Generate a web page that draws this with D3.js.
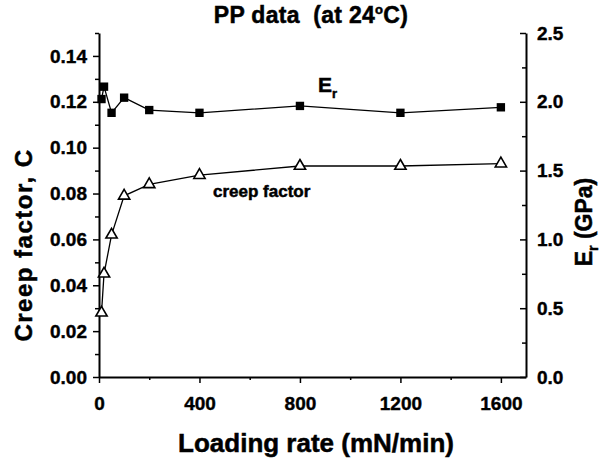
<!DOCTYPE html>
<html>
<head>
<meta charset="utf-8">
<script src="https://cdn.jsdelivr.net/npm/d3@7"></script>
<style>
  body { margin: 0; background: #fff; }
  svg text { font-family: "Liberation Sans", Arial, sans-serif; font-weight: bold; fill: #000; stroke: #000; stroke-width: 0.5; }
  .axis text { stroke-width: 0.4; }
  .axis path, .axis line { stroke: #000; }
  .axis path { stroke-width: 2; }
  .axis line { stroke-width: 1.5; }
  .line { fill: none; stroke: #000; stroke-width: 1.3; }
</style>
</head>
<body>
<div class="chart"></div>
<script>
const WIDTH = 613;
const HEIGHT = 458;
const MARGIN = {top: 33, right: 87, bottom: 81, left: 99};
const INNER_WIDTH = WIDTH - MARGIN.left - MARGIN.right;
const INNER_HEIGHT = HEIGHT - MARGIN.top - MARGIN.bottom;

// loading rate (mN/min)
var loadingRates = [10, 20, 50, 100, 200, 400, 800, 1200, 1600];
// reduced modulus Er (GPa), right axis
var erValues = [2.02, 2.11, 1.92, 2.03, 1.94, 1.92, 1.97, 1.92, 1.96];
// creep factor C, left axis
var creepValues = [0.028, 0.045, 0.062, 0.079, 0.084, 0.088, 0.092, 0.092, 0.093];

var xTicks = [0, 400, 800, 1200, 1600];
var xMinorTicks = [200, 600, 1000, 1400];
var leftTicks = [0, 0.02, 0.04, 0.06, 0.08, 0.10, 0.12, 0.14];
var leftMinorTicks = [0.01, 0.03, 0.05, 0.07, 0.09, 0.11, 0.13, 0.15];
var rightTicks = [0, 0.5, 1.0, 1.5, 2.0, 2.5];
var rightMinorTicks = [0.25, 0.75, 1.25, 1.75, 2.25];

var xScale = d3.scaleLinear().domain([0, 1700]).range([0, INNER_WIDTH]);
var yLeft = d3.scaleLinear().domain([0, 0.15]).range([INNER_HEIGHT, 0]);
var yRight = d3.scaleLinear().domain([0, 2.5]).range([INNER_HEIGHT, 0]);

var svg = d3.select('.chart').append('svg')
    .attr('width', WIDTH)
    .attr('height', HEIGHT);
var g = svg.append('g')
    .attr('transform', 'translate(' + MARGIN.left + ',' + MARGIN.top + ')');

function drawAxes() {
    var xG = g.append('g').attr('class', 'axis')
        .attr('transform', 'translate(0,' + INNER_HEIGHT + ')')
        .call(d3.axisBottom(xScale).tickValues(xTicks).tickSize(6).tickSizeOuter(0)
            .tickFormat(d3.format('d')).tickPadding(14));
    xG.selectAll('text').style('font-size', '19px');
    g.append('g').attr('class', 'axis')
        .attr('transform', 'translate(0,' + INNER_HEIGHT + ')')
        .call(d3.axisBottom(xScale).tickValues(xMinorTicks).tickSize(3).tickSizeOuter(0).tickFormat(''))
        .select('path').remove();

    var lG = g.append('g').attr('class', 'axis')
        .call(d3.axisLeft(yLeft).tickValues(leftTicks).tickSize(6).tickSizeOuter(0)
            .tickFormat(d3.format('.2f')).tickPadding(6));
    lG.selectAll('text').style('font-size', '19px');
    g.append('g').attr('class', 'axis')
        .call(d3.axisLeft(yLeft).tickValues(leftMinorTicks).tickSize(4).tickSizeOuter(0).tickFormat(''))
        .select('path').remove();

    var rG = g.append('g').attr('class', 'axis')
        .attr('transform', 'translate(' + INNER_WIDTH + ',0)')
        .call(d3.axisRight(yRight).tickValues(rightTicks).tickSize(-6).tickSizeOuter(0)
            .tickFormat(d3.format('.1f')).tickPadding(11));
    rG.selectAll('text').style('font-size', '19px');
    g.append('g').attr('class', 'axis')
        .attr('transform', 'translate(' + INNER_WIDTH + ',0)')
        .call(d3.axisRight(yRight).tickValues(rightMinorTicks).tickSize(-4).tickSizeOuter(0).tickFormat(''))
        .select('path').remove();
}

function drawSeries() {
    var erLine = d3.line()
        .x(function (d, i) { return xScale(loadingRates[i]); })
        .y(function (d) { return yRight(d); });
    var creepLine = d3.line()
        .x(function (d, i) { return xScale(loadingRates[i]); })
        .y(function (d) { return yLeft(d); });

    g.append('path').attr('class', 'line').attr('d', erLine(erValues));
    g.append('path').attr('class', 'line').attr('d', creepLine(creepValues));

    g.append('g').selectAll('path').data(erValues).enter().append('path')
        .attr('d', d3.symbol().type(d3.symbolSquare).size(70))
        .attr('transform', function (d, i) {
            return 'translate(' + xScale(loadingRates[i]) + ',' + yRight(d) + ')';
        })
        .attr('fill', '#000');

    g.append('g').selectAll('path').data(creepValues).enter().append('path')
        .attr('d', d3.symbol().type(d3.symbolTriangle).size(55))
        .attr('transform', function (d, i) {
            return 'translate(' + xScale(loadingRates[i]) + ',' + yLeft(d) + ')';
        })
        .attr('fill', '#fff')
        .attr('stroke', '#000')
        .attr('stroke-width', 1.6);
}

function drawLabels() {
    var title = svg.append('text')
        .attr('x', 311).attr('y', 23)
        .attr('text-anchor', 'middle')
        .style('font-size', '23px')
        .style('letter-spacing', '0.3px');
    title.append('tspan').text('PP data\u00a0 (at 24');
    title.append('tspan').attr('dy', -9).style('font-size', '13px').text('o');
    title.append('tspan').attr('dy', 9).text('C)');

    svg.append('text')
        .attr('transform', 'translate(32,245) rotate(-90)')
        .attr('text-anchor', 'middle')
        .style('font-size', '24px')
        .style('letter-spacing', '1.5px')
        .text('Creep factor, C');

    var rt = svg.append('text')
        .attr('transform', 'translate(592,222) rotate(-90)')
        .attr('text-anchor', 'middle')
        .style('font-size', '23px');
    rt.append('tspan').text('E');
    rt.append('tspan').attr('dy', 6).style('font-size', '14px').text('r');
    rt.append('tspan').attr('dy', -6).text(' (GPa)');

    svg.append('text')
        .attr('x', 316).attr('y', 452)
        .attr('text-anchor', 'middle')
        .style('font-size', '26px')
        .text('Loading rate (mN/min)');

    var er = svg.append('text')
        .attr('x', 318).attr('y', 92)
        .style('font-size', '21px');
    er.append('tspan').text('E');
    er.append('tspan').attr('dy', 6).style('font-size', '13px').text('r');

    svg.append('text')
        .attr('x', 213).attr('y', 197)
        .style('font-size', '17px')
        .text('creep factor');
}

drawAxes();
drawSeries();
drawLabels();
</script>
</body>
</html>
